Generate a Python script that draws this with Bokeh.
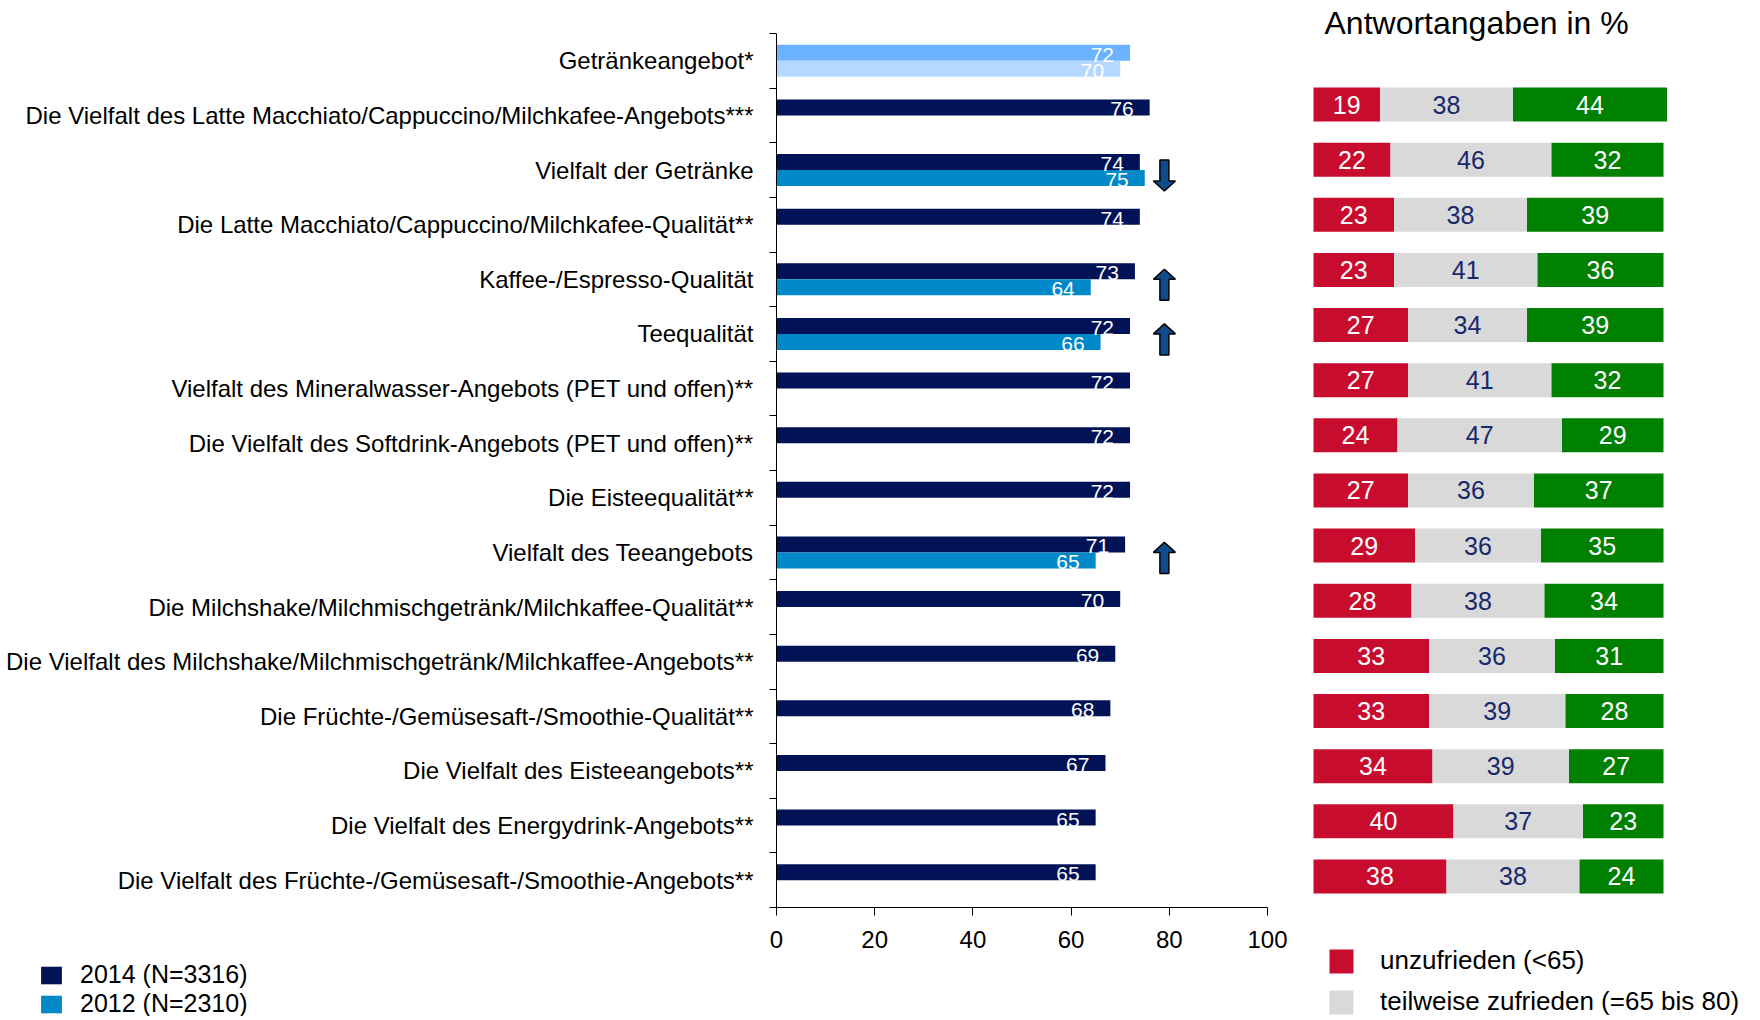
import numpy as np
import pandas as pd
from bokeh.plotting import figure
from bokeh.layouts import row, column
from bokeh.models import ColumnDataSource, Range1d, FixedTicker, Legend, LegendItem, Label
from bokeh.core.properties import value
from bokeh.embed import file_html
from bokeh.resources import INLINE

# ---------------- data ----------------
categories = [
    "Getränkeangebot*",
    "Die Vielfalt des Latte Macchiato/Cappuccino/Milchkafee-Angebots***",
    "Vielfalt der Getränke",
    "Die Latte Macchiato/Cappuccino/Milchkafee-Qualität**",
    "Kaffee-/Espresso-Qualität",
    "Teequalität",
    "Vielfalt des Mineralwasser-Angebots (PET und offen)**",
    "Die Vielfalt des Softdrink-Angebots (PET und offen)**",
    "Die Eisteequalität**",
    "Vielfalt des Teeangebots",
    "Die Milchshake/Milchmischgetränk/Milchkaffee-Qualität**",
    "Die Vielfalt des Milchshake/Milchmischgetränk/Milchkaffee-Angebots**",
    "Die Früchte-/Gemüsesaft-/Smoothie-Qualität**",
    "Die Vielfalt des Eisteeangebots**",
    "Die Vielfalt des Energydrink-Angebots**",
    "Die Vielfalt des Früchte-/Gemüsesaft-/Smoothie-Angebots**",
]
values_2014 = [72, 76, 74, 74, 73, 72, 72, 72, 72, 71, 70, 69, 68, 67, 65, 65]
values_2012 = [70, None, 75, None, 64, 66, None, None, None, 65, None, None, None, None, None, None]
trend = ["", "", "down", "", "up", "up", "", "", "", "up", "", "", "", "", "", ""]

# right panel rows correspond to categories[1:]
unzufrieden = [19, 22, 23, 23, 27, 27, 24, 27, 29, 28, 33, 33, 34, 40, 38]
teilweise = [38, 46, 38, 41, 34, 41, 47, 36, 36, 38, 36, 39, 39, 37, 38]
zufrieden = [44, 32, 39, 36, 39, 32, 29, 37, 35, 34, 31, 28, 27, 23, 24]

series_labels = ["2014 (N=3316)", "2012 (N=2310)"]
rating_labels = ["unzufrieden (<65)", "teilweise zufrieden (=65 bis 80)"]
x_ticks = [0, 20, 40, 60, 80, 100]
panel_title = "Antwortangaben in %"

# ---------------- style ----------------
FONT = "Liberation Sans"
NAVY = "#021256"
BLUE = "#0088C8"
HL14 = "#6BB2FF"
HL12 = "#B4D8FE"
RED = "#C80C2E"
GREY = "#D9D9D9"
GREEN = "#008000"
DARKTXT = "#17286B"
ARROW = "#0E4C8C"

H_TOTAL = 1016


def bare(fig):
    fig.outline_line_color = None
    fig.xgrid.visible = False
    fig.ygrid.visible = False
    return fig


# ---------------- left chart ----------------
n = len(categories)
MB_L, MB_R, MB_T, MB_B = 776, 29, 33, 53
frame_w = 491
frame_h = 874
W1 = MB_L + frame_w + MB_R
H1 = MB_T + frame_h + MB_B
ppx = frame_w / 100.0
ppy = frame_h / float(n)

p1 = bare(figure(width=W1, height=H1, x_range=Range1d(0, 100), y_range=Range1d(n - 0.5, -0.5),
                 output_backend="svg", toolbar_location=None,
                 min_border_left=MB_L, min_border_right=MB_R, min_border_top=MB_T,
                 min_border_bottom=MB_B))

yax = p1.yaxis[0]
yax.ticker = FixedTicker(ticks=list(range(n)), minor_ticks=[i - 0.5 for i in range(n + 1)])
yax.major_label_overrides = {i: c for i, c in enumerate(categories)}
yax.major_tick_out = 0
yax.major_tick_in = 0
yax.minor_tick_out = 7
yax.minor_tick_in = 0
yax.minor_tick_line_color = "black"
yax.axis_line_color = "black"
yax.major_label_standoff = 16
yax.major_label_text_font = FONT
yax.major_label_text_font_size = "24px"
yax.major_label_text_color = "black"

xax = p1.xaxis[0]
xax.ticker = FixedTicker(ticks=x_ticks, minor_ticks=[])
xax.major_tick_out = 8
xax.major_tick_in = 0
xax.minor_tick_out = 0
xax.minor_tick_in = 0
xax.major_tick_line_color = "black"
xax.axis_line_color = "black"
xax.major_label_standoff = 15
xax.major_label_text_font = FONT
xax.major_label_text_font_size = "24px"
xax.major_label_text_color = "black"

bar_h = 16.0 / ppy
idx = np.arange(n)
src14 = ColumnDataSource(dict(
    y=idx - bar_h / 2, v=values_2014, t=[str(v) for v in values_2014],
    c=[HL14 if i == 0 else NAVY for i in range(n)]))
p1.hbar(y="y", left=0, right="v", height=bar_h, fill_color="c", line_color=None, source=src14)

i12 = [i for i, v in enumerate(values_2012) if v is not None]
src12 = ColumnDataSource(dict(
    y=[i + bar_h / 2 for i in i12], v=[values_2012[i] for i in i12],
    t=[str(values_2012[i]) for i in i12],
    c=[HL12 if i == 0 else BLUE for i in i12]))
p1.hbar(y="y", left=0, right="v", height=bar_h, fill_color="c", line_color=None, source=src12)

for s in (src14, src12):
    p1.text(x="v", y="y", text="t", source=s, text_align="right", text_baseline="middle",
            x_offset=-16, y_offset=2, text_color="white", text_font=value(FONT),
            text_font_size="21px")

# trend arrows
ax_c = 79
sh, hd = 4.5 / ppx, 11 / ppx
L, hl = 31 / ppy, 10 / ppy
axs, ays = [], []
for i, t in enumerate(trend):
    if not t:
        continue
    yc = i + 0.1
    s = -1 if t == "up" else 1
    tip, tail = yc + s * L / 2, yc - s * L / 2
    neck = tip - s * hl
    axs.append([ax_c - sh, ax_c + sh, ax_c + sh, ax_c + hd, ax_c, ax_c - hd, ax_c - sh])
    ays.append([tail, tail, neck, neck, tip, neck, neck])
p1.patches(xs=axs, ys=ays, fill_color=ARROW, line_color="black", line_width=1.5)

# left legend figure (below, far left)
HL1 = H_TOTAL - H1
pl1 = bare(figure(width=W1, height=HL1, output_backend="svg", toolbar_location=None,
                  x_axis_location=None, y_axis_location=None,
                  min_border_left=38, min_border_top=0, min_border_right=0, min_border_bottom=0,
                  x_range=Range1d(0, 1), y_range=Range1d(0, 1)))
lr = [pl1.hbar(y=[0], left=[0], right=[0], height=0, fill_color=c, line_color=None)
      for c in (NAVY, BLUE)]
leg1 = Legend(items=[LegendItem(label=lab, renderers=[r]) for lab, r in zip(series_labels, lr)],
              location="top_left", margin=0, padding=0, border_line_color=None,
              background_fill_alpha=0, glyph_width=26, glyph_height=22, label_height=28,
              spacing=0, label_standoff=16, label_text_font=FONT, label_text_font_size="25px",
              label_text_color="black")
pl1.add_layout(leg1)

# ---------------- right panel ----------------
W2 = 1752 - W1
H2 = 922
px_per = 3.5
x0_px = 1313 - W1   # bar start, from the panel's left edge
row_px = 55.14
row0_y = 104        # centre of first row, from the top
m = len(unzufrieden)
p2 = bare(figure(width=W2, height=H2, output_backend="svg", toolbar_location=None,
                 x_range=Range1d(-x0_px / px_per, (W2 - x0_px) / px_per),
                 y_range=Range1d((H2 - row0_y) / row_px, -row0_y / row_px),
                 x_axis_location=None, y_axis_location=None, min_border=0))

df = pd.DataFrame(dict(u=unzufrieden, t=teilweise, z=zufrieden))
lefts = df.cumsum(axis=1).shift(1, axis=1).fillna(0)
rights = df.cumsum(axis=1)
seg_h = 34 / row_px
for col, colr, tcol in (("u", RED, "white"), ("t", GREY, DARKTXT), ("z", GREEN, "white")):
    s = ColumnDataSource(dict(y=list(range(m)), l=lefts[col].values, r=rights[col].values,
                              mid=(lefts[col].values + rights[col].values) / 2,
                              lab=[str(v) for v in df[col]]))
    p2.hbar(y="y", left="l", right="r", height=seg_h, fill_color=colr, line_color=None, source=s)
    p2.text(x="mid", y="y", text="lab", source=s, text_align="center", text_baseline="middle",
            text_color=tcol, text_font=value(FONT), text_font_size="25px")

p2.add_layout(Label(x=0, y=(22 - row0_y) / row_px, x_offset=11, text=panel_title,
                    text_font=FONT, text_font_size="32px", text_baseline="alphabetic",
                    text_color="black"))

HL2 = H_TOTAL - H2
pl2 = bare(figure(width=W2, height=HL2, output_backend="svg", toolbar_location=None,
                  x_axis_location=None, y_axis_location=None,
                  min_border_left=x0_px + 13, min_border_top=23, min_border_right=0,
                  min_border_bottom=0, x_range=Range1d(0, 1), y_range=Range1d(0, 1)))
rr = [pl2.hbar(y=[0], left=[0], right=[0], height=0, fill_color=c, line_color=None)
      for c in (RED, GREY)]
leg2 = Legend(items=[LegendItem(label=lab, renderers=[r]) for lab, r in zip(rating_labels, rr)],
              location="top_left", margin=0, padding=0, border_line_color=None,
              background_fill_alpha=0, glyph_width=30, glyph_height=30, label_height=30,
              spacing=10, label_standoff=24, label_text_font=FONT, label_text_font_size="26px",
              label_text_color="black")
pl2.add_layout(leg2)

layout = row(column(row(p1), row(pl1)), column(row(p2), row(pl2)))
open("out.html", "w").write(file_html(layout, INLINE))
